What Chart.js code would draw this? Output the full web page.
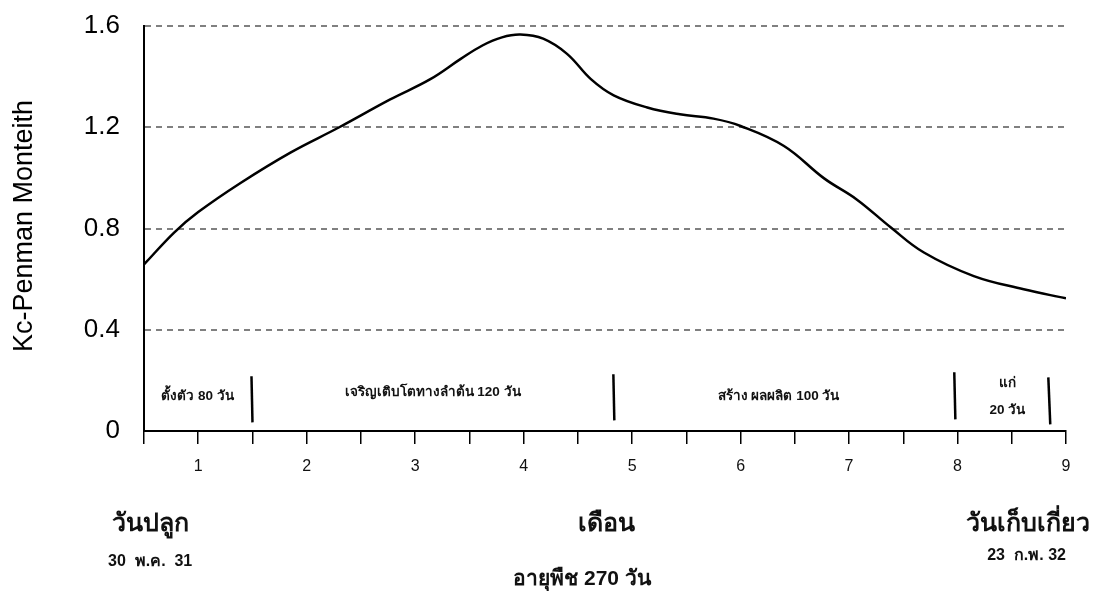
<!DOCTYPE html>
<html><head><meta charset="utf-8">
<script src="https://cdn.jsdelivr.net/npm/chart.js@4.4.1/dist/chart.umd.min.js"></script>
<style>html,body{margin:0;padding:0;background:#fff}canvas{display:block}</style>
</head><body>
<canvas id="c" width="1094" height="597"></canvas>
<script>
// Kc curve: months after planting and Kc values
const months = [0.5, 0.78, 1.0, 1.39, 1.85, 2.30, 2.77, 3.14, 3.42, 3.62, 3.80, 3.97, 4.18, 4.40, 4.62, 4.83, 5.14, 5.44, 5.75, 6.0, 6.40, 6.77, 7.07, 7.38, 7.69, 8.15, 8.61, 9.0];
const kc     = [0.658, 0.785, 0.865, 0.98, 1.10, 1.20, 1.31, 1.39, 1.47, 1.523, 1.555, 1.566, 1.55, 1.49, 1.39, 1.326, 1.278, 1.251, 1.234, 1.205, 1.126, 0.998, 0.915, 0.806, 0.705, 0.612, 0.56, 0.524];
// stage separators (top x, bottom x, top y, bottom y)
const sepTopX = [1.491, 4.827, 7.97, 8.837];
const sepBotX = [1.50, 4.836, 7.98, 8.855];
const sepTopY = [0.216, 0.224, 0.232, 0.212];
const sepBotY = [0.034, 0.042, 0.046, 0.026];
// stage labels
const stageText = ['ตั้งตัว 80 วัน', 'เจริญเติบโตทางลำต้น 120 วัน', 'สร้าง ผลผลิต 100 วัน', 'แก่', '20 วัน'];
const stageX = [0.993, 3.16, 6.35, 8.46, 8.46];
const stageY = [0.137, 0.153, 0.137, 0.188, 0.081];
const yTicks = [0, 0.4, 0.8, 1.2, 1.6];
const xTickLabels = ['1','2','3','4','5','6','7','8','9'];
const yTitle = 'Kc-Penman Monteith';

const FONT = "'Liberation Sans', Arial, sans-serif";
const curve = months.map((m, i) => ({x: m, y: kc[i]}));
const sepSets = sepTopX.map((t, i) => ({
  data: [{x: t, y: sepTopY[i]}, {x: sepBotX[i], y: sepBotY[i]}],
  borderColor: '#000', borderWidth: 2.5, pointRadius: 0, tension: 0, showLine: true
}));

const textPlugin = {
  id: 'texts',
  afterDraw(chart) {
    const ctx = chart.ctx, xs = chart.scales.x, ys = chart.scales.y;
    ctx.save();
    ctx.fillStyle = '#111';
    ctx.textAlign = 'center';
    ctx.textBaseline = 'middle';
    ctx.font = "bold 13.5px " + FONT;
    stageText.forEach((t, i) => ctx.fillText(t, xs.getPixelForValue(stageX[i]), ys.getPixelForValue(stageY[i])));
    // bottom captions
    ctx.textAlign = 'left';
    ctx.font = "bold 25px " + FONT;
    ctx.fillText('วันปลูก', 112, 524);
    ctx.textAlign = 'center';
    ctx.fillText('เดือน', 606, 524);
    ctx.textAlign = 'right';
    ctx.fillText('วันเก็บเกี่ยว', 1090, 524);
    ctx.font = "bold 16px " + FONT;
    ctx.textAlign = 'left';
    ctx.fillText('30  พ.ค.  31', 108, 562);
    ctx.textAlign = 'right';
    ctx.fillText('23  ก.พ. 32', 1066, 556);
    ctx.textAlign = 'center';
    ctx.font = "bold 21px " + FONT;
    ctx.fillText('อายุพืช 270 วัน', 582, 579);
    // y title
    ctx.translate(25, 226);
    ctx.rotate(-Math.PI / 2);
    ctx.font = "27px " + FONT;
    ctx.fillStyle = '#000';
    ctx.fillText(yTitle, 0, 0);
    ctx.restore();
  }
};

new Chart(document.getElementById('c'), {
  type: 'scatter',
  data: {
    datasets: [{
      data: curve, showLine: true, borderColor: '#000', borderWidth: 2.5,
      pointRadius: 0, tension: 0.4
    }, ...sepSets]
  },
  options: {
    responsive: false, animation: false,
    layout: {padding: {left: 0, right: 28, top: 26, bottom: 0}},
    plugins: {legend: {display: false}, tooltip: {enabled: false}},
    scales: {
      x: {
        type: 'linear', min: 0.5, max: 9,
        afterBuildTicks(s) { s.ticks = []; for (let v = 0.5; v <= 9.001; v += 0.5) s.ticks.push({value: v}); },
        afterFit(s) { s.height = 597 - 431; },
        border: {color: '#000', width: 2},
        grid: {drawOnChartArea: false, drawTicks: true, tickLength: 13, color: '#000', lineWidth: 1.5},
        ticks: {
          autoSkip: false, maxRotation: 0, padding: 13, color: '#111',
          font: {family: FONT, size: 16},
          callback: v => Number.isInteger(v) ? xTickLabels[v - 1] : ''
        }
      },
      y: {
        min: 0, max: 1.6,
        afterBuildTicks(s) { s.ticks = yTicks.map(v => ({value: v})); },
        afterFit(s) { s.width = 144; },
        border: {color: '#000', width: 2, dash: [6, 5]},
        grid: {
          drawTicks: true, tickLength: 24, tickColor: 'rgba(0,0,0,0)',
          color: c => c.tick && c.tick.value === 0 ? 'rgba(0,0,0,0)' : '#808080',
          lineWidth: 2
        },
        ticks: {padding: 0, color: '#000', font: {family: FONT, size: 26},
          callback: v => String(v)}
      }
    }
  },
  plugins: [textPlugin]
});
</script>
</body></html>
